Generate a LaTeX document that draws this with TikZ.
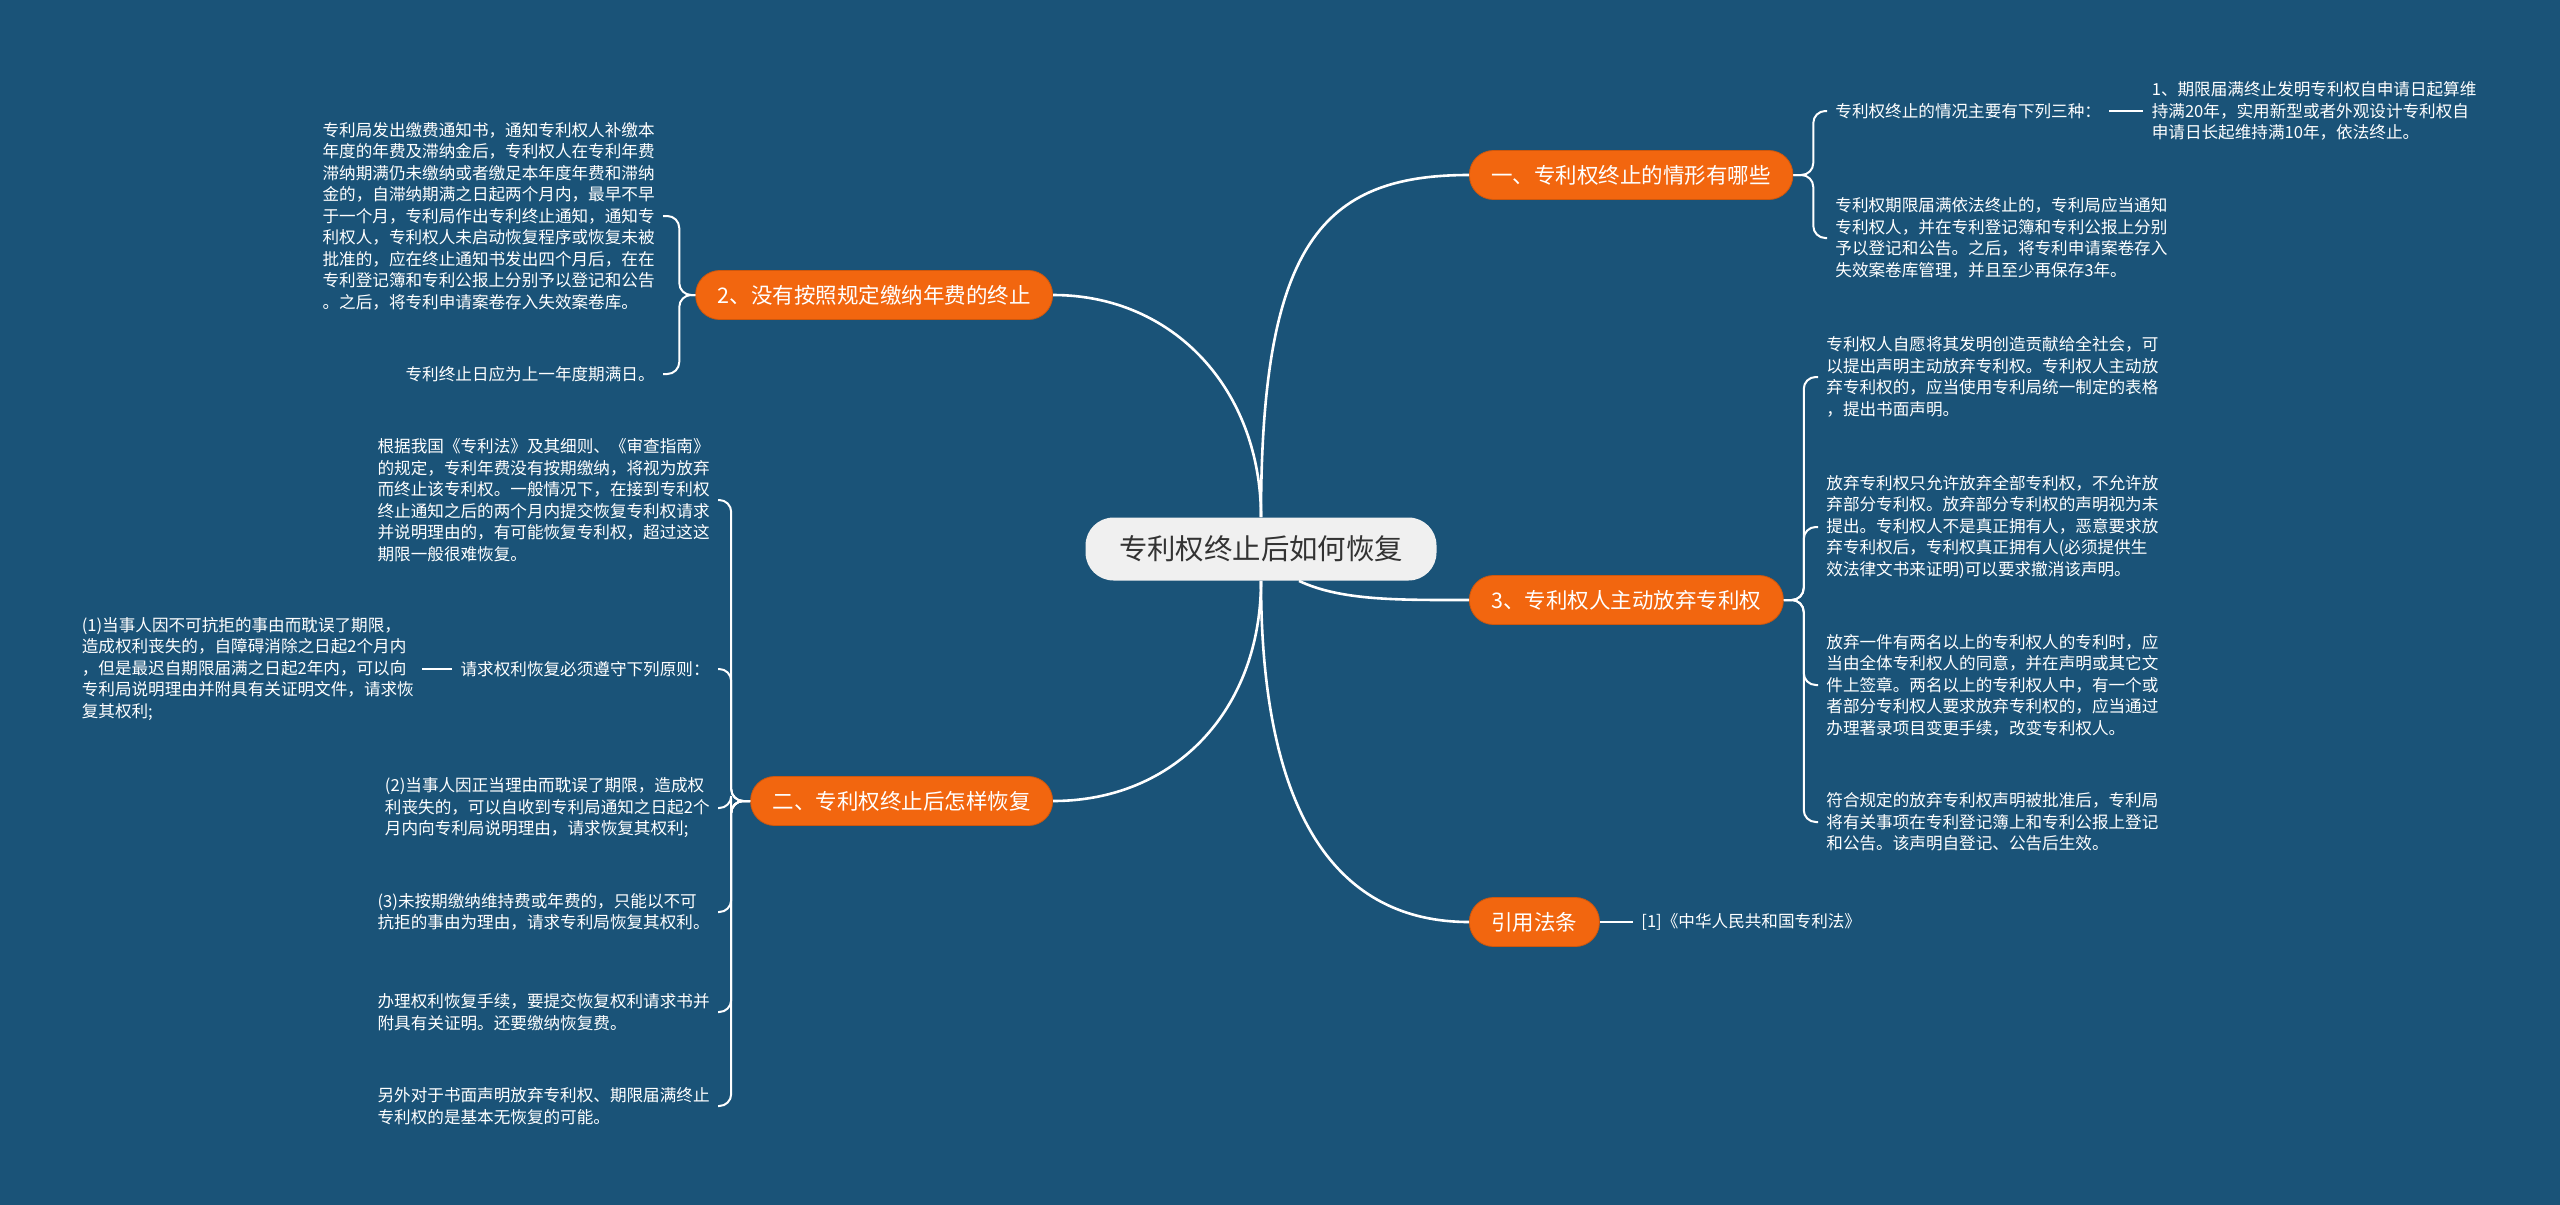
\documentclass[tikz,border=0pt]{standalone}
\usepackage{fontspec}
\setmainfont{Noto Sans CJK SC}
\usepackage{xcolor}
\usepackage{tikz}
\usetikzlibrary{positioning}
\definecolor{bgblue}{HTML}{1A5378}
\definecolor{topicorange}{HTML}{F2660F}
\definecolor{rootgray}{HTML}{F0F0F0}
\definecolor{rootink}{HTML}{333333}

\begin{document}
\begin{tikzpicture}[x=0.5pt,y=-0.5pt,
  every node/.style={font=\fontsize{8.3}{10.75}\selectfont,text=white},
  topic/.style={draw=topicorange!85!black,line width=0.4pt,fill=topicorange,rounded corners=12pt,minimum height=24.5pt,inner xsep=11pt,font=\fontsize{10.75}{12}\selectfont},
  note/.style={align=left,inner xsep=4pt,inner ysep=2pt},
  trunk/.style={draw=white,line width=1.3pt},
  twig/.style={draw=white,line width=1pt,rounded corners=6pt}]
\useasboundingbox (0,0) rectangle (2560,1205);
\fill[bgblue] (0,0) rectangle (2560,1205);

% centre and main topics
\node[fill=rootgray,text=rootink,rounded corners=14pt,minimum height=31.5pt,inner xsep=16.75pt,font=\fontsize{14.2}{16}\selectfont] (root) at (1261,549) {专利权终止后如何恢复};
\node[topic,anchor=west] (b1) at (1469,175) {一、专利权终止的情形有哪些};
\node[topic,anchor=east] (b2) at (1053,295) {2、没有按照规定缴纳年费的终止};
\node[topic,anchor=west] (b3) at (1469,600) {3、专利权人主动放弃专利权};
\node[topic,anchor=east] (b4) at (1053,801) {二、专利权终止后怎样恢复};
\node[topic,anchor=west] (b5) at (1469,922) {引用法条};

\draw[trunk] (root.north) .. controls +(0,-273) and +(-147,0) .. (b1.west);
\draw[trunk] (root.north) .. controls +(0,-126) and +(122,0) .. (b2.east);
\draw[trunk] (root.-40) .. controls +(42,20) and +(-69,0) .. (b3.west);
\draw[trunk] (root.south) .. controls +(0,129) and +(122,0) .. (b4.east);
\draw[trunk] (root.south) .. controls +(0,239) and +(-129,0) .. (b5.west);

% 一
\node[note,anchor=west] (c11) at (1827,111) {专利权终止的情况主要有下列三种：};
\node[note,right=17pt of c11] (c111) {1、期限届满终止发明专利权自申请日起算维\\持满20年，实用新型或者外观设计专利权自\\申请日长起维持满10年，依法终止。};
\node[note,anchor=west] (c12) at (1827,238) {专利权期限届满依法终止的，专利局应当通知\\专利权人，并在专利登记簿和专利公报上分别\\予以登记和公告。之后，将专利申请案卷存入\\失效案卷库管理，并且至少再保存3年。};
\foreach \c in {c11,c12} \draw[twig] (b1.east) -- ++(20,0) |- (\c.west);
\draw[twig] (c11) -- (c111);

% 2
\node[note,anchor=east] (c21) at (663,216) {专利局发出缴费通知书，通知专利权人补缴本\\年度的年费及滞纳金后，专利权人在专利年费\\滞纳期满仍未缴纳或者缴足本年度年费和滞纳\\金的，自滞纳期满之日起两个月内，最早不早\\于一个月，专利局作出专利终止通知，通知专\\利权人，专利权人未启动恢复程序或恢复未被\\批准的，应在终止通知书发出四个月后，在在\\专利登记簿和专利公报上分别予以登记和公告\\。之后，将专利申请案卷存入失效案卷库。};
\node[note,anchor=east] (c22) at (663,374) {专利终止日应为上一年度期满日。};
\foreach \c in {c21,c22} \draw[twig] (b2.west) -- ++(-16,0) |- (\c.east);

% 3
\node[note,anchor=west] (c31) at (1818,377) {专利权人自愿将其发明创造贡献给全社会，可\\以提出声明主动放弃专利权。专利权人主动放\\弃专利权的，应当使用专利局统一制定的表格\\，提出书面声明。};
\node[note,anchor=west] (c32) at (1818,527) {放弃专利权只允许放弃全部专利权，不允许放\\弃部分专利权。放弃部分专利权的声明视为未\\提出。专利权人不是真正拥有人，恶意要求放\\弃专利权后，专利权真正拥有人(必须提供生\\效法律文书来证明)可以要求撤消该声明。};
\node[note,anchor=west] (c33) at (1818,685) {放弃一件有两名以上的专利权人的专利时，应\\当由全体专利权人的同意，并在声明或其它文\\件上签章。两名以上的专利权人中，有一个或\\者部分专利权人要求放弃专利权的，应当通过\\办理著录项目变更手续，改变专利权人。};
\node[note,anchor=west] (c34) at (1818,822) {符合规定的放弃专利权声明被批准后，专利局\\将有关事项在专利登记簿上和专利公报上登记\\和公告。该声明自登记、公告后生效。};
\foreach \c in {c31,c32,c33,c34} \draw[twig] (b3.east) -- ++(20,0) |- (\c.west);

% 二
\node[note,anchor=east] (c41) at (718,500) {根据我国《专利法》及其细则、《审查指南》\\的规定，专利年费没有按期缴纳，将视为放弃\\而终止该专利权。一般情况下，在接到专利权\\终止通知之后的两个月内提交恢复专利权请求\\并说明理由的，有可能恢复专利权，超过这这\\期限一般很难恢复。};
\node[note,anchor=east] (c42) at (718,669) {请求权利恢复必须遵守下列原则：};
\node[note,left=15pt of c42] (c421) {(1)当事人因不可抗拒的事由而耽误了期限，\\造成权利丧失的，自障碍消除之日起2个月内\\，但是最迟自期限届满之日起2年内，可以向\\专利局说明理由并附具有关证明文件，请求恢\\复其权利;};
\node[note,anchor=east] (c43) at (718,808) {(2)当事人因正当理由而耽误了期限，造成权\\利丧失的，可以自收到专利局通知之日起2个\\月内向专利局说明理由，请求恢复其权利;};
\node[note,anchor=east] (c44) at (718,912) {(3)未按期缴纳维持费或年费的，只能以不可\\抗拒的事由为理由，请求专利局恢复其权利。};
\node[note,anchor=east] (c45) at (718,1012) {办理权利恢复手续，要提交恢复权利请求书并\\附具有关证明。还要缴纳恢复费。};
\node[note,anchor=east] (c46) at (718,1106) {另外对于书面声明放弃专利权、期限届满终止\\专利权的是基本无恢复的可能。};
\foreach \c in {c41,c42,c43,c44,c45,c46} \draw[twig] (b4.west) -- ++(-19,0) |- (\c.east);
\draw[twig] (c42) -- (c421);

% 引用法条
\node[note,anchor=west] (c51) at (1633,922) {[1]《中华人民共和国专利法》};
\draw[twig] (b5) -- (c51);
\end{tikzpicture}
\end{document}
